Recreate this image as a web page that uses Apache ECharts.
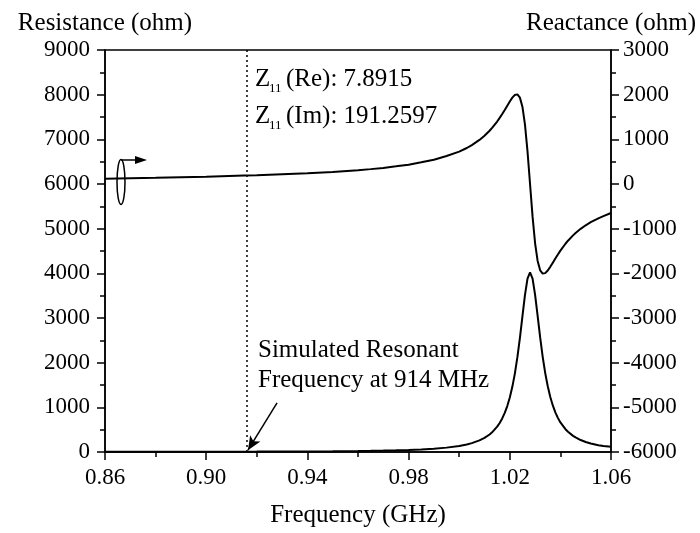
<!DOCTYPE html>
<html>
<head>
<meta charset="utf-8">
<script src="https://cdn.jsdelivr.net/npm/echarts@6/dist/echarts.min.js"></script>
<style>html,body{margin:0;padding:0;background:#fff}#c{width:700px;height:533px}</style>
</head>
<body>
<div id="c"></div>
<script>
var freq = [0.86,0.88,0.90,0.915,0.92,0.94,0.95,0.96,0.965,0.97,0.975,0.98,0.985,0.99,0.995,1.00,1.003,1.005,1.008,1.01,1.012,1.013,1.015,1.016,1.017,1.018,1.019,1.02,1.021,1.022,1.023,1.024,1.025,1.026,1.027,1.028,1.029,1.030,1.031,1.032,1.033,1.034,1.035,1.036,1.037,1.038,1.039,1.04,1.042,1.043,1.045,1.046,1.048,1.05,1.052,1.055,1.057,1.06];
var resistance = [3.3,4.4,6.0,7.9,8.6,13.3,17.1,22.6,26.5,31.4,37.7,46.1,57.6,73.9,97.9,135,169,198,259,315,392,440,567,650,751,875,1028,1220,1459,1755,2122,2557,3041,3517,3883,4020,3882,3519,3046,2564,2131,1767,1471,1232,1042,888,764,662,510,452,361,326,268,225,191,153,133,115];
var reactance = [120,138,162,191,197,240,269,308,333,360,395,432,485,542,626,725,806,871,987,1081,1192,1255,1399,1480,1566,1659,1754,1848,1933,1994,2007,1934,1726,1330,731,0,-732,-1327,-1722,-1932,-2006,-1995,-1936,-1854,-1761,-1668,-1577,-1491,-1338,-1270,-1150,-1097,-1004,-924,-855,-769,-720,-650];
var xTicks = {min:0.86, max:1.06, step:0.04};
var leftTicks = {min:0, max:9000, step:1000};
var rightTicks = {min:-6000, max:3000, step:1000};
var resonantFreq = 0.916;

var FONT = 'Liberation Serif';
var chart = echarts.init(document.getElementById('c'));
function pairs(a){ return freq.map(function(f,i){ return [f, a[i]]; }); }
var axisCommon = function(){
  return {
    axisLine:{show:true, onZero:false, lineStyle:{color:'#000', width:1.5}},
    axisTick:{show:true, inside:false, length:8, lineStyle:{color:'#000', width:1.5}},
    minorTick:{show:true, splitNumber:2, length:5, lineStyle:{color:'#000', width:1.5}},
    splitLine:{show:false}
  };
};
var xa = axisCommon();
Object.assign(xa, {type:'value', min:xTicks.min, max:xTicks.max, interval:xTicks.step,
  name:'Frequency (GHz)', nameLocation:'middle', nameGap:51,
  nameTextStyle:{fontFamily:FONT, fontSize:25, color:'#000'},
  axisLabel:{margin:14, fontFamily:FONT, fontSize:23, color:'#000', formatter:function(v){return v.toFixed(2);}}});
var ya = axisCommon();
Object.assign(ya, {type:'value', position:'left', min:leftTicks.min, max:leftTicks.max, interval:leftTicks.step,
  name:'Resistance (ohm)', nameLocation:'end', nameGap:14,
  nameTextStyle:{fontFamily:FONT, fontSize:25, color:'#000'},
  axisLabel:{margin:15, fontFamily:FONT, fontSize:23, color:'#000', formatter:function(v){return String(v);}}});
var yb = axisCommon();
Object.assign(yb, {type:'value', position:'right', min:rightTicks.min, max:rightTicks.max, interval:rightTicks.step,
  name:'Reactance (ohm)', nameLocation:'end', nameGap:14,
  nameTextStyle:{fontFamily:FONT, fontSize:25, color:'#000'},
  axisLabel:{margin:12, fontFamily:FONT, fontSize:23, color:'#000', formatter:function(v){return String(v);}}});

var txt = function(t, x, y, size){
  return {type:'text', x:x, y:y, silent:true,
    style:{text:t, fontFamily:FONT, fontSize:size, fill:'#000', align:'left', verticalAlign:'middle'}};
};

chart.setOption({
  animation:false,
  grid:{left:105, right:89, top:50, bottom:76, show:true, borderColor:'#000', borderWidth:1.5, backgroundColor:'transparent'},
  xAxis:xa,
  yAxis:[ya, yb],
  series:[
    {type:'line', yAxisIndex:0, data:pairs(resistance), showSymbol:false, smooth:false,
     lineStyle:{color:'#000', width:2},
     markLine:{silent:true, symbol:'none', label:{show:false}, animation:false,
       data:[
         [{coord:[resonantFreq,leftTicks.min], symbol:'none', lineStyle:{type:[2,3], color:'#000', width:1.5}},
          {coord:[resonantFreq,leftTicks.max], symbol:'none'}],
         [{coord:[0.928,1100], symbol:'none', lineStyle:{type:'solid', color:'#000', width:1.5}},
          {coord:[0.9165,40], symbol:'arrow', symbolSize:[9,14]}]
       ]}},
    {type:'line', yAxisIndex:1, data:pairs(reactance), showSymbol:false, smooth:false,
     lineStyle:{color:'#000', width:2}}
  ],
  graphic:[
    txt('Z', 255, 79, 25), txt('11', 269, 89, 13), txt('(Re): 7.8915', 286, 79, 25),
    txt('Z', 255, 116, 25), txt('11', 269, 126, 13), txt('(Im): 191.2597', 286, 116, 25),
    txt('Simulated Resonant', 258, 350, 25), txt('Frequency at 914 MHz', 258, 380, 25),
    {type:'ellipse', shape:{cx:121, cy:182, rx:4, ry:22.5}, style:{fill:'none', stroke:'#000', lineWidth:1.5}},
    {type:'line', shape:{x1:121, y1:160, x2:137, y2:160}, style:{stroke:'#000', lineWidth:1.5}},
    {type:'polygon', shape:{points:[[135,156],[147,160],[135,164]]}, style:{fill:'#000'}}
  ]
});
</script>
</body>
</html>
